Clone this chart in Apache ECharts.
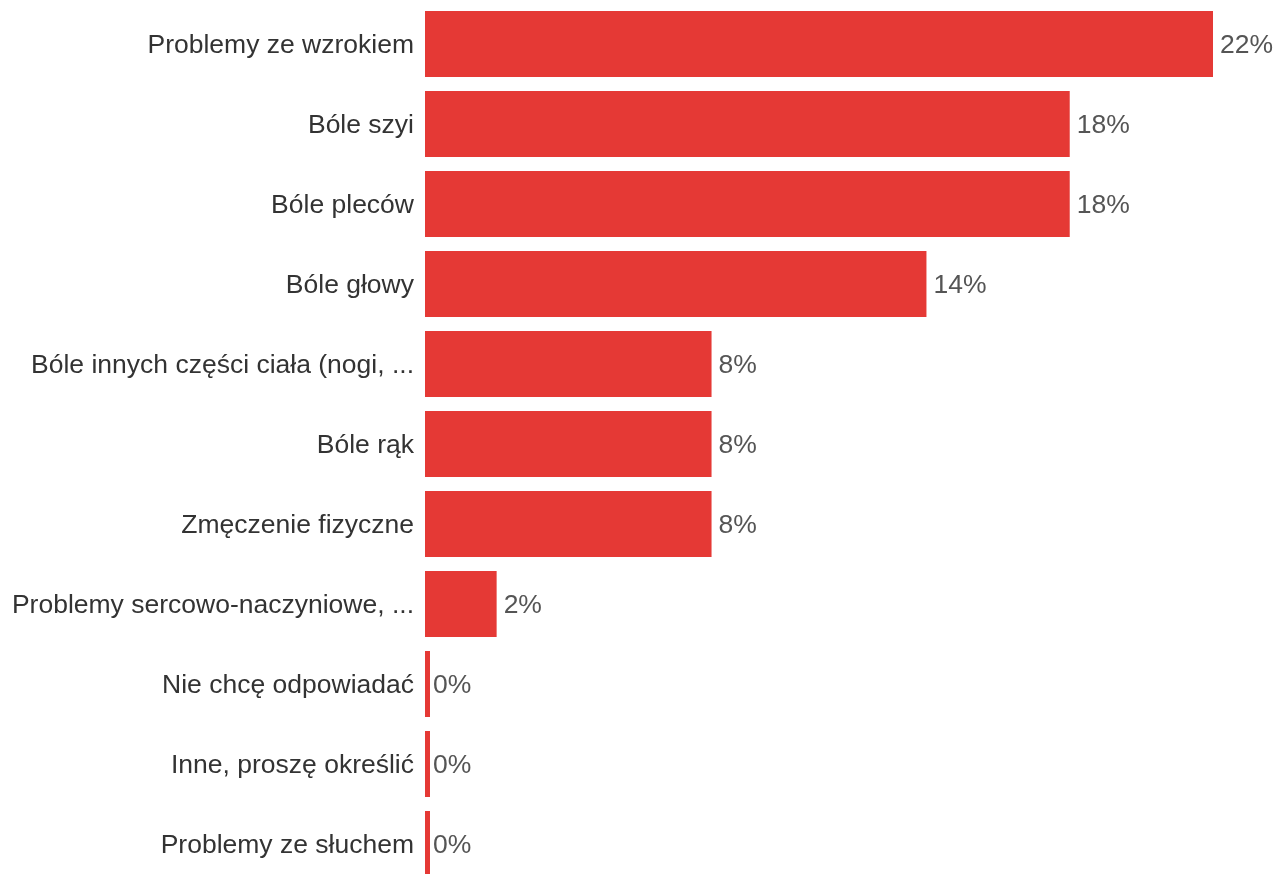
<!DOCTYPE html>
<html><head><meta charset="utf-8">
<script src="https://cdn.jsdelivr.net/npm/echarts@6/dist/echarts.min.js"></script>
<style>html,body{margin:0;padding:0;background:#fff;overflow:hidden}#c{width:1277px;height:884px}</style>
</head><body><div id="c"></div>
<script>
const categories = ["Problemy ze wzrokiem","Bóle szyi","Bóle pleców","Bóle głowy","Bóle innych części ciała (nogi, ...","Bóle rąk","Zmęczenie fizyczne","Problemy sercowo-naczyniowe, ...","Nie chcę odpowiadać","Inne, proszę określić","Problemy ze słuchem"];
const values = [22,18,18,14,8,8,8,2,0,0,0];

const seriesData = values.map(v => v === 0 ? {value: v, label: {distance: 3}} : v);

const chart = echarts.init(document.getElementById('c'));
chart.setOption({
  animation:false,
  grid:{left:425, top:4, width:788, height:880},
  xAxis:{type:'value', min:0, max:22, show:false},
  yAxis:{type:'category', data:categories, inverse:true,
    axisLine:{show:false}, axisTick:{show:false}, splitLine:{show:false},
    axisLabel:{margin:11, formatter: v => '{a|' + v + '}',
      rich:{a:{color:'#333', fontSize:26.5, fontFamily:'Liberation Sans', padding:[4,0,0,0]}}}},
  series:[{type:'bar', data:seriesData, barWidth:66, barMinHeight:5,
    itemStyle:{color:'#e53935'},
    label:{show:true, position:'right', distance:7, offset:[0,2], formatter:'{c}%', color:'#555', fontSize:26.5, fontFamily:'Liberation Sans'}}]
});
</script></body></html>
